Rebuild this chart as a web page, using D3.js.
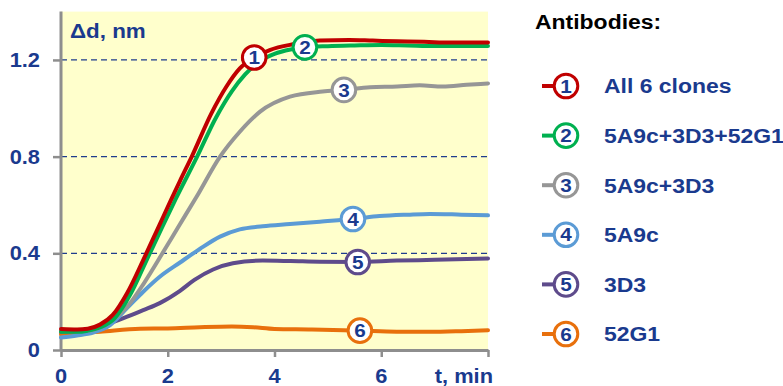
<!DOCTYPE html>
<html>
<head>
<meta charset="utf-8">
<script src="https://cdn.jsdelivr.net/npm/d3@7"></script>
<style>
  html, body { margin: 0; padding: 0; background: #ffffff; }
  svg { display: block; }
  text { font-family: "Liberation Sans", Arial, sans-serif; font-weight: bold; }
</style>
</head>
<body>
<svg id="chart" width="783" height="386"></svg>
<script>
// Binding kinetics: thickness change (nm) vs time (min), [t, Δd] pairs
const allClones = [[0,0.087],[0.3,0.085],[0.5,0.088],[0.73,0.105],[0.97,0.145],[1.24,0.236],[1.54,0.372],[1.85,0.52],[2.07,0.625],[2.23,0.70],[2.45,0.80],[2.82,0.98],[3.1,1.09],[3.35,1.165],[3.62,1.21],[3.91,1.241],[4.35,1.265],[4.85,1.28],[5.4,1.283],[5.84,1.28],[6.3,1.277],[6.8,1.275],[7.3,1.272],[8,1.272]];
const mix3 = [[0,0.075],[0.3,0.075],[0.5,0.08],[0.75,0.095],[1.0,0.13],[1.3,0.23],[1.6,0.37],[1.9,0.51],[2.15,0.625],[2.55,0.8],[2.9,0.96],[3.2,1.07],[3.45,1.14],[3.73,1.195],[4.0,1.225],[4.3,1.243],[4.57,1.252],[5,1.257],[5.5,1.26],[6,1.262],[6.5,1.26],[7,1.258],[7.5,1.258],[8,1.258]];
const mix2 = [[0,0.078],[0.5,0.08],[0.92,0.117],[1.24,0.179],[1.55,0.275],[1.9,0.4],[2.2,0.51],[2.54,0.634],[2.98,0.8],[3.35,0.903],[3.73,0.986],[4.29,1.048],[4.9,1.069],[5.3,1.076],[5.79,1.087],[6.3,1.09],[6.72,1.095],[7.15,1.09],[7.6,1.097],[8,1.103]];
const clone5A9c = [[0,0.052],[0.3,0.06],[0.6,0.072],[0.92,0.103],[1.24,0.174],[1.54,0.241],[1.85,0.303],[2.23,0.362],[2.6,0.418],[2.98,0.469],[3.35,0.499],[3.78,0.512],[4.29,0.521],[4.85,0.531],[5.47,0.542],[5.97,0.554],[6.5,0.56],[6.91,0.563],[7.5,0.56],[8,0.557]];
const clone3D3 = [[0,0.076],[0.5,0.08],[0.92,0.111],[1.24,0.138],[1.54,0.165],[1.85,0.194],[2.23,0.245],[2.5,0.29],[2.85,0.333],[3.22,0.359],[3.78,0.37],[4.3,0.368],[4.85,0.365],[5.56,0.364],[6.29,0.37],[7,0.373],[8,0.379]];
const clone52G1 = [[0,0.066],[0.73,0.076],[1.48,0.088],[2,0.089],[2.6,0.094],[3.2,0.097],[3.6,0.094],[4.0,0.087],[4.7,0.085],[5.6,0.08],[6.29,0.076],[6.9,0.075],[7.5,0.078],[8,0.082]];

const seriesData = [allClones, mix3, mix2, clone5A9c, clone3D3, clone52G1];
const seriesNames = ["All 6 clones", "5A9c+3D3+52G1", "5A9c+3D3", "5A9c", "3D3", "52G1"];
const seriesColors = ["#c00000", "#00b050", "#969696", "#5b9bd5", "#5e4b8b", "#e8700c"];
const labelTimes = [3.62, 4.57, 5.3, 5.47, 5.56, 5.6];

const xTicks = [0, 2, 4, 6, 8];
const xTickLabels = ["0", "2", "4", "6", ""];
const yTicks = [0, 0.4, 0.8, 1.2];
const yTickLabels = ["0", "0.4", "0.8", "1.2"];
const gridValues = [0.4, 0.8, 1.2];

const TEXT_BLUE = "#1a3a8e";
const AXIS_GREY = "#8e8e8e";
const SX = 1.12; // horizontal stretch of all lettering

const svg = d3.select("#chart");
const x = d3.scaleLinear().domain([0, 8]).range([61, 488]);
const y = d3.scaleLinear().domain([0, 1.4]).range([350, 11.6]);

// plot background
svg.append("rect")
  .attr("x", x(0)).attr("y", y(1.4))
  .attr("width", x(8) - x(0)).attr("height", y(0) - y(1.4))
  .attr("fill", "#ffffcc");

// dashed horizontal gridlines
svg.append("g").selectAll("line").data(gridValues).join("line")
  .attr("x1", x(0)).attr("x2", x(8))
  .attr("y1", d => y(d)).attr("y2", d => y(d))
  .attr("stroke", "#1f3c8c").attr("stroke-width", 1.3)
  .attr("stroke-dasharray", "6,4");

function stretchedText(parent, px, py, str, opts) {
  const g = parent.append("g").attr("transform", `translate(${px},${py}) scale(${SX},1)`);
  return g.append("text")
    .attr("text-anchor", opts.anchor || "start")
    .attr("font-size", opts.size)
    .attr("fill", opts.fill || TEXT_BLUE)
    .attr("dy", opts.dy || 0)
    .text(str);
}

// y axis
const yAxis = svg.append("g").attr("transform", `translate(${x(0)},0)`)
  .call(d3.axisLeft(y).tickValues(yTicks).tickSize(8).tickSizeOuter(0).tickFormat(""));
yAxis.select(".domain").attr("d", `M0,${y(1.4)}V${y(0)}`);
// x axis
const xAxis = svg.append("g").attr("transform", `translate(0,${y(0)})`)
  .call(d3.axisBottom(x).tickValues(xTicks).tickSize(7).tickSizeOuter(0).tickFormat(""));
[yAxis, xAxis].forEach(a => {
  a.select(".domain").attr("stroke", AXIS_GREY).attr("stroke-width", 3);
  a.selectAll(".tick line").attr("stroke", AXIS_GREY).attr("stroke-width", 2.5);
});

// tick labels
yTicks.forEach((v, i) => stretchedText(svg, 40, y(v), yTickLabels[i], {anchor: "end", size: 19.5, dy: "0.36em"}));
xTicks.forEach((v, i) => stretchedText(svg, x(v), 383, xTickLabels[i], {anchor: "middle", size: 19.5}));
stretchedText(svg, 493, 383, "t, min", {anchor: "end", size: 19.5});
stretchedText(svg, 70, 38, "Δd, nm", {anchor: "start", size: 20});

// curves
const line = d3.line().x(d => x(d[0])).y(d => y(d[1])).curve(d3.curveMonotoneX);
const drawOrder = [5, 4, 3, 2, 1, 0];
svg.append("g").selectAll("path").data(drawOrder).join("path")
  .attr("d", i => line(seriesData[i]))
  .attr("fill", "none")
  .attr("stroke", i => seriesColors[i])
  .attr("stroke-width", 4)
  .attr("stroke-linejoin", "round")
  .attr("stroke-linecap", "round");

// value of a series at time t (linear between readings)
function valueAt(series, t) {
  const i = d3.bisector(d => d[0]).left(series, t);
  if (i <= 0) return series[0][1];
  if (i >= series.length) return series[series.length - 1][1];
  const a = series[i - 1], b = series[i];
  return a[1] + (b[1] - a[1]) * (t - a[0]) / (b[0] - a[0]);
}

function numberBadge(parent, cx, cy, n, color) {
  parent.append("circle").attr("cx", cx).attr("cy", cy).attr("r", 11.8)
    .attr("fill", "#ffffff").attr("stroke", color).attr("stroke-width", 3);
  stretchedText(parent, cx, cy, String(n), {anchor: "middle", size: 18.5, dy: "0.36em"});
}

// numbered markers on curves
const badges = svg.append("g");
seriesData.forEach((s, i) => {
  numberBadge(badges, x(labelTimes[i]), y(valueAt(s, labelTimes[i])), i + 1, seriesColors[i]);
});

// legend
const legend = svg.append("g");
stretchedText(legend, 535, 29, "Antibodies:", {anchor: "start", size: 20.5, fill: "#000000"});
seriesNames.forEach((name, i) => {
  const cy = 86 + i * 49.6;
  legend.append("line").attr("x1", 542).attr("x2", 556).attr("y1", cy).attr("y2", cy)
    .attr("stroke", seriesColors[i]).attr("stroke-width", 4);
  numberBadge(legend, 566, cy, i + 1, seriesColors[i]);
  stretchedText(legend, 604, cy, name, {anchor: "start", size: 20.5, dy: "0.36em"});
});
</script>
</body>
</html>
